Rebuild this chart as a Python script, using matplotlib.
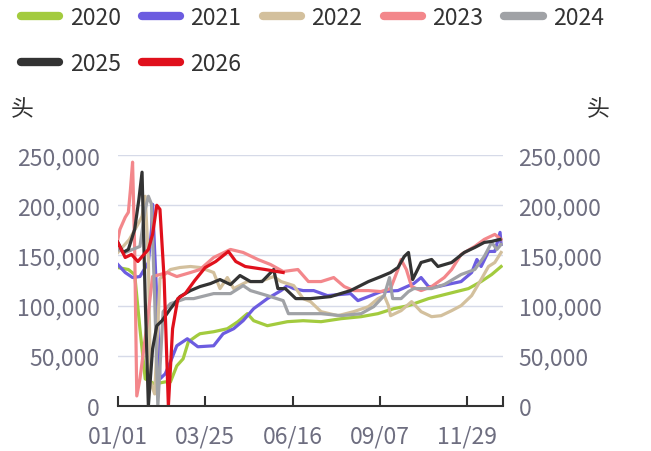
import matplotlib
matplotlib.use("Agg")
import matplotlib.pyplot as plt
from matplotlib.ticker import FuncFormatter

plt.rcParams['font.family'] = ['Noto Sans CJK SC', 'DejaVu Sans']

# day of year (0 = 01/01) and head counts
d2020 = [0, 10, 16, 21, 26, 35, 45, 50, 56, 62, 67, 75, 78, 91, 104, 114, 123, 129, 142, 161, 176, 193,
         212, 231, 247, 262, 276, 295, 314, 333, 345, 355, 364]
v2020 = [138, 136, 131, 77, 27, 22, 24, 24, 40, 47, 64, 70, 72, 74, 77, 84, 92, 85, 80, 84, 85, 84,
         87, 89, 92, 97, 100, 107, 112, 117, 124, 131, 139]

d2021 = [0, 7, 14, 21, 29, 32, 33, 37, 40, 45, 50, 56, 66, 76, 91, 100, 110, 119, 129, 142, 155, 161,
         167, 176, 186, 199, 221, 228, 238, 250, 266, 281, 288, 295, 304, 317, 326, 336, 341, 345,
         352, 358, 363, 364]
v2021 = [141, 133, 128, 129, 143, 176, 201, 107, 27, 32, 44, 60, 67, 59, 60, 72, 77, 85, 97, 107, 115, 120,
         117, 115, 115, 110, 112, 105, 109, 114, 115, 122, 128, 119, 119, 122, 124, 133, 146, 139,
         154, 154, 173, 161]

d2022 = [0, 11, 19, 23, 26, 29, 31, 35, 40, 50, 59, 69, 78, 91, 97, 104, 110, 123, 135, 148, 155, 167,
         176, 183, 193, 209, 224, 238, 247, 253, 257, 259, 269, 279, 288, 298, 307, 317, 326, 336,
         345, 352, 358, 364]
v2022 = [153, 166, 181, 189, 209, 146, 24, 12, 127, 136, 138, 139, 138, 133, 117, 128, 117, 124, 124, 129, 124, 120,
         107, 104, 94, 90, 94, 99, 107, 110, 100, 90, 95, 104, 94, 89, 90, 95, 100, 110,
         126, 139, 143, 153]

d2023 = [0, 2, 7, 10, 12, 14, 16, 18, 21, 28, 33, 47, 56, 69, 78, 91, 107, 119, 133, 145, 157, 171,
         181, 193, 205, 215, 224, 238, 250, 259, 266, 269, 274, 279, 288, 298, 310, 317, 326, 339,
         348, 358, 364]
v2023 = [166, 176, 188, 193, 216, 243, 156, 10, 27, 84, 129, 133, 129, 133, 136, 148, 156, 153, 146, 141, 134, 136,
         124, 124, 128, 119, 115, 115, 114, 117, 136, 146, 136, 119, 115, 119, 128, 136, 151, 159,
         166, 171, 166]

d2024 = [0, 7, 21, 26, 29, 32, 35, 38, 43, 50, 56, 64, 72, 91, 107, 119, 126, 142, 157, 162, 176, 193,
         212, 231, 243, 253, 258, 261, 269, 276, 281, 298, 310, 326, 339, 348, 355, 360, 364]
v2024 = [156, 153, 159, 196, 209, 201, 107, 0, 94, 102, 104, 107, 107, 112, 112, 120, 115, 110, 105, 92, 92, 92,
         90, 92, 99, 110, 128, 107, 107, 114, 117, 117, 121, 131, 136, 149, 163, 156, 161]

d2025 = [0, 5, 10, 16, 20, 23, 26, 29, 33, 37, 42, 50, 59, 69, 78, 88, 97, 107, 116, 126, 137, 148,
         152, 159, 169, 183, 202, 221, 238, 250, 259, 266, 272, 276, 280, 288, 298, 304, 317, 329,
         339, 348, 355, 363]
v2025 = [163, 153, 156, 176, 206, 233, 107, 0, 57, 80, 85, 97, 109, 115, 119, 122, 126, 121, 130, 124, 124, 136,
         117, 117, 107, 107, 109, 115, 124, 129, 133, 138, 149, 153, 126, 143, 146, 139, 143, 153,
         158, 163, 164, 166]

d2026 = [0, 7, 13, 19, 24, 29, 33, 37, 40, 44, 48, 52, 57, 64, 73, 83, 93, 105, 112, 121, 140, 157]
v2026 = [163, 148, 151, 144, 150, 156, 171, 200, 196, 126, 0, 77, 107, 112, 125, 138, 144, 154, 144, 139, 136, 133]

years = ['2020', '2021', '2022', '2023', '2024', '2025', '2026']
days = [d2020, d2021, d2022, d2023, d2024, d2025, d2026]
values = [v2020, v2021, v2022, v2023, v2024, v2025, v2026]
colors = ['#a3cb3e', '#6c5ce0', '#d3c09d', '#f3878b', '#a0a2a6', '#333333', '#e0101c']

tick_days = [0, 83, 166, 249, 332]
tick_labels = ['01/01', '03/25', '06/16', '09/07', '11/29']
y_ticks = [0, 50000, 100000, 150000, 200000, 250000]

fig = plt.figure(figsize=(6.51, 4.52), dpi=100)
ax = fig.add_axes([0.181, 0.0996, 0.592, 0.555])

lines = []
for yr, d, v, c in zip(years, days, values, colors):
    ln, = ax.plot(d, [x * 1000 for x in v], color=c, lw=2.3, label=yr, solid_joinstyle='round')
    lines.append(ln)

ax.set_xlim(0, 366)
ax.set_ylim(0, 250000)
ax.set_yticks(y_ticks)
ax.set_xticks(tick_days + [366])
ax.set_xticklabels(tick_labels + [''])
fmt = FuncFormatter(lambda v, p: f'{int(v):,}')
ax.yaxis.set_major_formatter(fmt)
ax.grid(axis='y', color='#d6dae8', lw=1)
ax.set_axisbelow(True)
for s in ['left', 'right', 'top']:
    ax.spines[s].set_visible(False)
ax.spines['bottom'].set_color('#333333')
ax.spines['bottom'].set_linewidth(1.5)
ax.tick_params(axis='x', direction='in', length=7, width=1.5, color='#333333',
               labelsize=16.5, labelcolor='#6e6e80', pad=13)
ax.tick_params(axis='y', length=0, labelsize=16.5, labelcolor='#6e6e80', pad=13)

ax2 = ax.twinx()
ax2.set_ylim(0, 250000)
ax2.set_yticks(y_ticks)
ax2.yaxis.set_major_formatter(fmt)
for s in ['left', 'right', 'top', 'bottom']:
    ax2.spines[s].set_visible(False)
ax2.tick_params(axis='y', length=0, labelsize=16.5, labelcolor='#6e6e80', pad=11)

fig.text(22 / 651, 1 - 110 / 452, '头', fontsize=16.5, color='#333333', ha='center', va='center')
fig.text(598 / 651, 1 - 110 / 452, '头', fontsize=16.5, color='#333333', ha='center', va='center')

# matplotlib fills legend columns first; reorder so rows read 2020..2024 / 2025, 2026
order = [0, 5, 1, 6, 2, 3, 4]
leg = fig.legend(handles=[lines[i] for i in order], loc='upper left', bbox_to_anchor=(0.018, 1.005), ncol=5,
                 frameon=False, fontsize=16.5, handlelength=1.67, handletextpad=0.46,
                 columnspacing=0.92, labelspacing=1.02, borderaxespad=0)
for h in leg.get_lines():
    h.set_linewidth(6)
    h.set_solid_capstyle('round')
for t in leg.get_texts():
    t.set_color('#333333')

fig.savefig('out.png', dpi=100)
